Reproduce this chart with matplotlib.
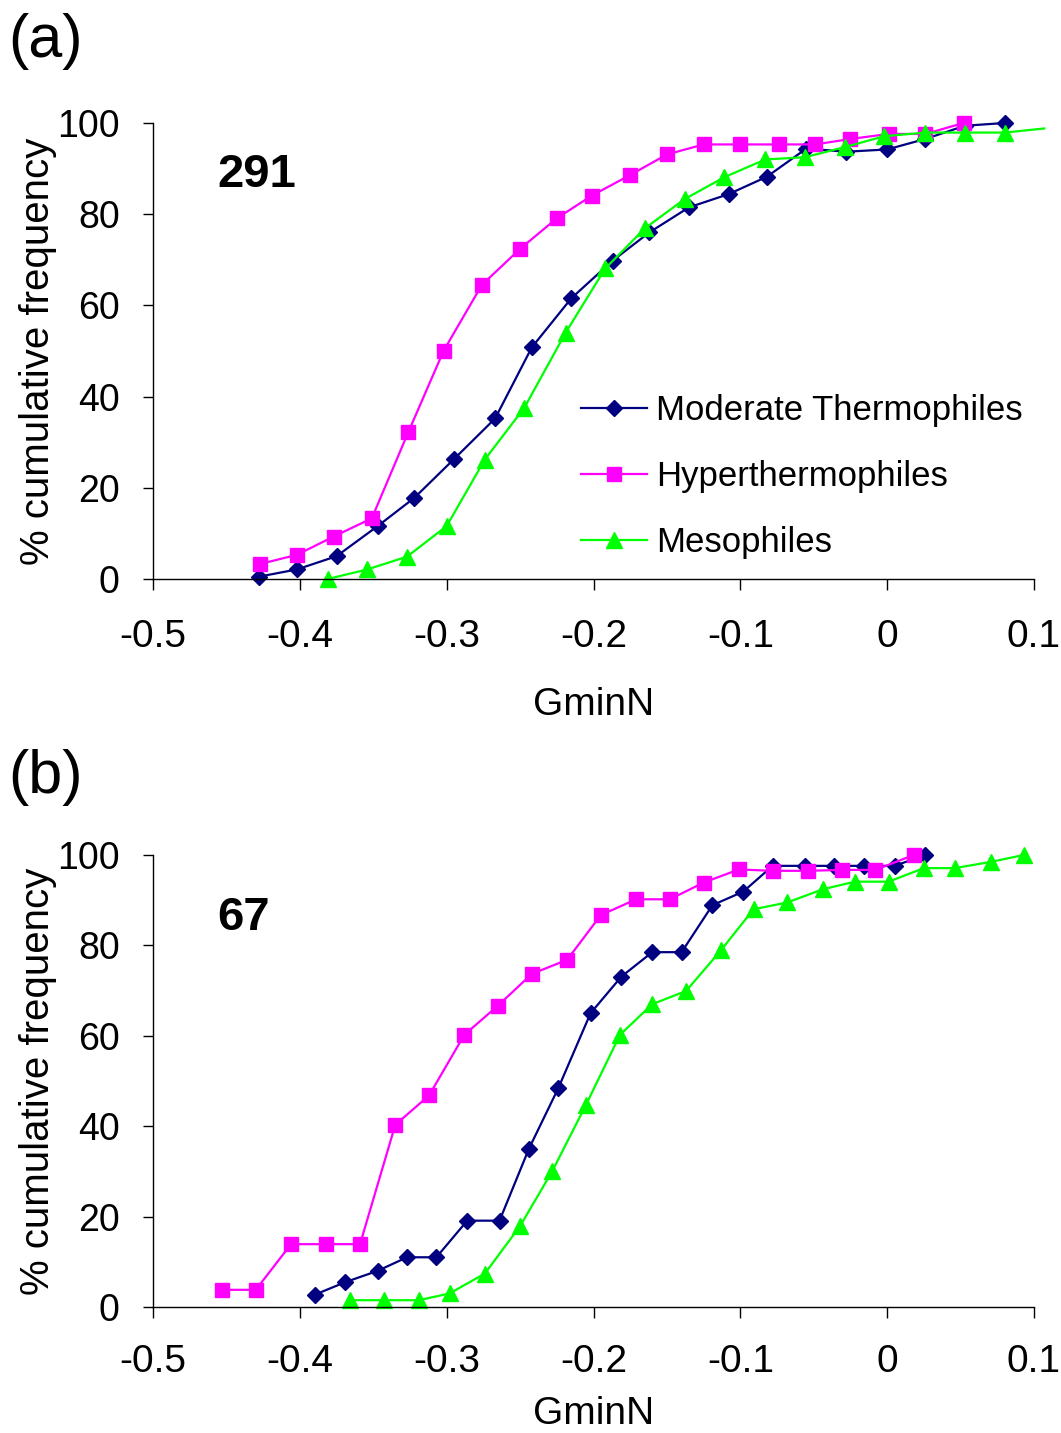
import matplotlib
matplotlib.use("Agg")
import matplotlib.pyplot as plt

plt.rcParams['font.family'] = ['Liberation Sans', 'DejaVu Sans']
plt.rcParams['axes.unicode_minus'] = False

# ---- panel (a): 291 genomes ----
a_mod_x = [-0.428, -0.402, -0.375, -0.347, -0.322, -0.295, -0.267, -0.242, -0.215, -0.187,
           -0.162, -0.135, -0.108, -0.082, -0.055, -0.028, 0.000, 0.026, 0.053, 0.080]
a_mod_y = [0.5, 2.1, 5.0, 11.6, 17.8, 26.3, 35.2, 50.8, 61.6, 69.8,
           76.0, 81.5, 84.4, 88.2, 94.4, 93.7, 94.2, 96.5, 99.4, 100]
a_hyp_x = [-0.427, -0.402, -0.377, -0.351, -0.326, -0.302, -0.276, -0.250, -0.225, -0.201,
           -0.175, -0.150, -0.125, -0.100, -0.074, -0.049, -0.025, 0.001, 0.026, 0.052]
a_hyp_y = [3.3, 5.3, 9.3, 13.3, 32.3, 50.1, 64.5, 72.4, 79.1, 84.1,
           88.6, 93.1, 95.3, 95.3, 95.3, 95.3, 96.5, 97.6, 97.6, 100]
a_mes_x = [-0.381, -0.354, -0.327, -0.300, -0.274, -0.247, -0.219, -0.192, -0.165, -0.138,
           -0.111, -0.083, -0.056, -0.029, -0.002, 0.026, 0.053, 0.080, 0.107]
a_mes_y = [0, 2.1, 4.9, 11.6, 26.2, 37.6, 54.0, 68.1, 76.9, 83.3,
           88.1, 92.0, 92.5, 94.7, 97.1, 97.9, 97.9, 97.9, 98.8]

# ---- panel (b): 67 genomes ----
b_mod_x = [-0.390, -0.369, -0.347, -0.327, -0.307, -0.286, -0.264, -0.244, -0.224, -0.202,
           -0.181, -0.160, -0.140, -0.119, -0.098, -0.078, -0.056, -0.036, -0.016, 0.005, 0.026]
b_mod_y = [2.7, 5.5, 8.0, 11.0, 11.0, 19.1, 19.1, 35.0, 48.4, 65.0,
           73.1, 78.5, 78.5, 88.9, 91.9, 97.6, 97.6, 97.6, 97.6, 97.6, 100]
b_hyp_x = [-0.453, -0.430, -0.406, -0.382, -0.359, -0.335, -0.312, -0.288, -0.265, -0.242,
           -0.218, -0.195, -0.171, -0.148, -0.125, -0.101, -0.078, -0.054, -0.031, -0.008, 0.018]
b_hyp_y = [3.8, 3.8, 13.9, 13.9, 13.9, 40.3, 46.8, 60.2, 66.7, 73.7,
           76.8, 86.7, 90.2, 90.2, 93.9, 96.8, 96.5, 96.5, 96.7, 96.7, 100]
b_mes_x = [-0.366, -0.343, -0.319, -0.298, -0.274, -0.250, -0.228, -0.205, -0.182, -0.160,
           -0.137, -0.113, -0.091, -0.068, -0.044, -0.022, 0.001, 0.025, 0.046, 0.071, 0.093]
b_mes_y = [1.5, 1.5, 1.5, 3.0, 7.4, 17.9, 30.1, 44.8, 60.2, 67.0,
           69.9, 79.0, 88.0, 89.5, 92.4, 94.1, 94.1, 97.1, 97.1, 98.5, 100]

labels = ['Moderate Thermophiles', 'Hyperthermophiles', 'Mesophiles']
colors = ['#000080', '#FF00FF', '#00FF00']
markers = ['D', 's', '^']
msizes = [8, 10, 12]

xticks = [-0.5, -0.4, -0.3, -0.2, -0.1, 0, 0.1]
xticklabels = ['-0.5', '-0.4', '-0.3', '-0.2', '-0.1', '0', '0.1']
yticks = [0, 20, 40, 60, 80, 100]

fig = plt.figure(figsize=(10.61, 14.33), dpi=100)
# axes spans: x from -0.5 (px 153) to 0.1 (px 1034)
ax_a = fig.add_axes([153 / 1061, 1 - 579 / 1433, 881 / 1061, 456 / 1433])
ax_b = fig.add_axes([153 / 1061, 1 - 1307 / 1433, 881 / 1061, 452 / 1433])


def draw(ax, series, count, count_y, xlab_y, xpad, legend=False):
    for (x, y), lab, c, m, ms in zip(series, labels, colors, markers, msizes):
        # a point past the end of the axis only continues the line, no marker
        marks = [i for i, v in enumerate(x) if v <= 0.1]
        ax.plot(x, y, color=c, marker=m, markersize=ms, lw=1.6, label=lab,
                markevery=marks, clip_on=False)
    ax.set_xlim(-0.5, 0.1)
    ax.set_ylim(0, 100)
    ax.spines['top'].set_visible(False)
    ax.spines['right'].set_visible(False)
    ax.spines['left'].set_linewidth(1.0)
    ax.spines['bottom'].set_linewidth(1.0)
    ax.set_xticks(xticks)
    ax.set_xticklabels(xticklabels)
    ax.set_yticks(yticks)
    ax.tick_params(axis='x', labelsize=28, length=8, width=1.0, pad=xpad)
    ax.tick_params(axis='y', labelsize=27, length=7, width=1.0, pad=17)
    ax.set_xlabel('GminN', fontsize=28, va='center')
    ax.xaxis.set_label_coords(0.5, xlab_y)
    ax.set_ylabel('% cumulative frequency', fontsize=29, va='center')
    ax.yaxis.set_label_coords(-115 / 881, 0.5)
    ax.text(-0.456, count_y, count, fontsize=34, fontweight='bold', va='center', ha='left')
    if legend:
        ax.legend(loc='upper left', bbox_to_anchor=(0.486, 0.406), frameon=False,
                  fontsize=25, handlelength=1.9, handletextpad=0.25,
                  labelspacing=0.95, borderpad=0, borderaxespad=0)


draw(ax_a, [(a_mod_x, a_mod_y), (a_hyp_x, a_hyp_y), (a_mes_x, a_mes_y)], '291', 88.5,
     -126 / 456, 21, legend=True)
draw(ax_b, [(b_mod_x, b_mod_y), (b_hyp_x, b_hyp_y), (b_mes_x, b_mes_y)], '67', 86,
     -107 / 452, 19)

fig.text(8 / 1061, 1 - 42 / 1433, '(a)', fontsize=44, va='center', ha='left')
fig.text(8 / 1061, 1 - 778 / 1433, '(b)', fontsize=44, va='center', ha='left')

fig.savefig('out.png', dpi=100)
